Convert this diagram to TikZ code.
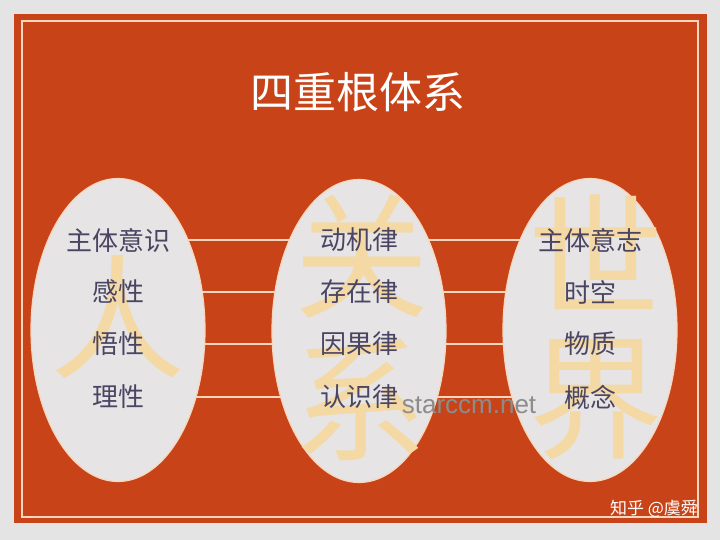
\documentclass[tikz,border=0pt]{standalone}
\usepackage{fontspec}
\setmainfont{Noto Sans CJK SC}
\newfontfamily\wmfont{Liberation Sans}
\usepackage{tikz}
\usetikzlibrary{shapes.geometric}

\definecolor{redbg}{HTML}{C84418}
\definecolor{cream}{HTML}{F9D6BC}
\definecolor{ovalfill}{HTML}{E6E4E4}
\definecolor{txt}{HTML}{4A4562}
\definecolor{bigch}{HTML}{F4D9A4}
\definecolor{margin}{HTML}{E4E4E4}

\pgfdeclarelayer{bg}
\pgfdeclarelayer{lines}
\pgfsetlayers{bg,lines,main}

\begin{document}
\begin{tikzpicture}[x=1pt, y=-1pt]
\tikzstyle{oval} = [ellipse, fill=ovalfill, draw=cream, line width=1.2pt,
  minimum width=174pt, minimum height=303pt, inner sep=0pt]
\tikzstyle{big} = [text=bigch, inner sep=0pt, font=\fontsize{135pt}{140pt}\selectfont]
\tikzstyle{item} = [text=txt, inner sep=0pt, font=\fontsize{26pt}{30pt}\selectfont]
\tikzstyle{link} = [draw=cream, line width=2pt]

\useasboundingbox (0,0) rectangle (720,540);

\begin{pgfonlayer}{bg}
\fill[margin] (0,0) rectangle (720,540);
\fill[redbg] (14,14) rectangle (707,523);
\draw[cream, line width=1.5pt] (22,21) rectangle (698,517);
\end{pgfonlayer}

\node[text=white, font=\fontsize{43pt}{48pt}\selectfont] (title) at (358,92) {四重根体系};

% three ovals
\node[oval] (left) at (118,330) {};
\node[oval] (mid) at (359,331) {};
\node[oval] (right) at (590,330) {};

% faded big letters
\node[big] (ren) at (118,317) {人};
\node[big] (guan) at (362,256) {关};
\node[big] (xi) at (360,400) {系};
\node[big] (shi) at (596,252) {世};
\node[big] (jie) at (596,400) {界};

\node[item] (l1) at (118,240) {主体意识};
\node[item] (l2) at (118,292) {感性};
\node[item] (l3) at (118,344) {悟性};
\node[item] (l4) at (118,397) {理性};

\node[item] (m1) at (359,240) {动机律};
\node[item] (m2) at (359,292) {存在律};
\node[item] (m3) at (359,344) {因果律};
\node[item] (m4) at (359,397) {认识律};

\node[item] (r1) at (590,240) {主体意志};
\node[item] (r2) at (590,292) {时空};
\node[item] (r3) at (590,344) {物质};
\node[item] (r4) at (590,397) {概念};

\begin{pgfonlayer}{lines}
\foreach \row in {1,2,3,4}
  \draw[link] (l\row) -- (r\row);
\end{pgfonlayer}

% watermarks
\node[text=black!45, font=\wmfont\fontsize{26pt}{30pt}\selectfont] (wm) at (469,405) {starccm.net};
\node[text=white, font=\fontsize{17pt}{20pt}\selectfont] (zh) at (654,509) {知乎 @虞舜};
\end{tikzpicture}
\end{document}
